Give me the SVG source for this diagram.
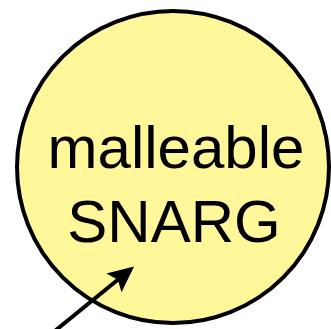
<svg xmlns="http://www.w3.org/2000/svg" width="331" height="329" viewBox="0 0 331 329">
  <style>
    .node-circle { fill: #fff799; stroke: #000; stroke-width: 4; }
    .label { font-family: "Helvetica Neue", Helvetica, "Liberation Sans", Arial, sans-serif; font-size: 60px; fill: #000; text-anchor: middle; }
    .edge { stroke: #000; stroke-width: 4; fill: none; }
  </style>
  <defs>
    <marker id="arrowhead" markerUnits="userSpaceOnUse" markerWidth="26" markerHeight="26" viewBox="0 0 26 26" refX="22" refY="13" orient="auto">
      <path d="M0,1 L26,13 L0,25 L5,13 Z" fill="#000"/>
    </marker>
  </defs>
  <g id="node-malleable-snarg">
    <circle class="node-circle" cx="173" cy="167" r="156"/>
    <text class="label" x="176" y="168">malleable</text>
    <text class="label" x="174" y="242">SNARG</text>
  </g>
  <g id="connectors">
    <line class="edge" x1="45" y1="339" x2="131" y2="269" marker-end="url(#arrowhead)"/>
  </g>
</svg>
